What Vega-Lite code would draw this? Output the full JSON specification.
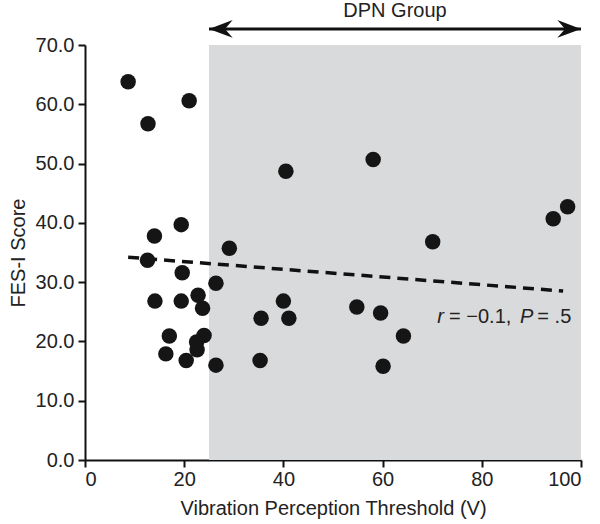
{
  "$schema": "https://vega.github.io/schema/vega-lite/v6.json",
  "width": 496,
  "height": 415,
  "autosize": "none",
  "padding": {"left": 85, "top": 45, "right": 19, "bottom": 64},
  "background": "white",
  "config": {
    "view": {"stroke": null},
    "font": "Liberation Sans",
    "axis": {
      "domainColor": "#111111",
      "domainWidth": 2,
      "tickColor": "#111111",
      "tickWidth": 2,
      "tickSize": 7,
      "labelFont": "Liberation Sans",
      "labelFontSize": 20,
      "labelColor": "#222222",
      "titleFont": "Liberation Sans",
      "titleFontSize": 20,
      "titleFontWeight": "normal",
      "titleColor": "#222222",
      "grid": false
    }
  },
  "datasets": {
    "points": [
      {"vpt": 8.7, "fes": 63.8},
      {"vpt": 12.7, "fes": 56.7},
      {"vpt": 21.0, "fes": 60.6},
      {"vpt": 40.5, "fes": 48.7},
      {"vpt": 58.1, "fes": 50.7},
      {"vpt": 97.3, "fes": 42.7},
      {"vpt": 94.4, "fes": 40.7},
      {"vpt": 70.1, "fes": 36.8},
      {"vpt": 54.8, "fes": 25.8},
      {"vpt": 59.6, "fes": 24.8},
      {"vpt": 64.2, "fes": 20.9},
      {"vpt": 60.1, "fes": 15.8},
      {"vpt": 14.0, "fes": 37.8},
      {"vpt": 19.4, "fes": 39.7},
      {"vpt": 29.1, "fes": 35.7},
      {"vpt": 12.6, "fes": 33.7},
      {"vpt": 19.6, "fes": 31.6},
      {"vpt": 26.4, "fes": 29.8},
      {"vpt": 14.1, "fes": 26.8},
      {"vpt": 19.4, "fes": 26.8},
      {"vpt": 22.8, "fes": 27.8},
      {"vpt": 23.7, "fes": 25.6},
      {"vpt": 40.0, "fes": 26.8},
      {"vpt": 41.1, "fes": 23.9},
      {"vpt": 35.5, "fes": 23.9},
      {"vpt": 17.0, "fes": 20.9},
      {"vpt": 24.0, "fes": 21.0},
      {"vpt": 22.5, "fes": 19.9},
      {"vpt": 22.6, "fes": 18.6},
      {"vpt": 16.3, "fes": 17.9},
      {"vpt": 20.4, "fes": 16.8},
      {"vpt": 26.4, "fes": 16.0},
      {"vpt": 35.3, "fes": 16.8}
    ],
    "fit": [
      {"vpt": 8.7, "fes": 34.2},
      {"vpt": 96.4, "fes": 28.5}
    ],
    "region": [
      {"x1": 25, "x2": 100, "y1": 0, "y2": 70}
    ],
    "arrow": [
      {"x1": 25, "x2": 100, "y": 72.7}
    ],
    "heads_left": [{"x": 25, "y": 72.7}],
    "heads_right": [{"x": 100, "y": 72.7}],
    "group_label": [{"x": 62.5, "y": 74.8, "label": "DPN Group"}],
    "stat_italic": [
      {"x": 71.0, "y": 23.05, "label": "r"},
      {"x": 87.7, "y": 23.05, "label": "P"}
    ],
    "stat_normal": [
      {"x": 73.4, "y": 23.05, "label": "= −0.1,"},
      {"x": 91.2, "y": 23.05, "label": "= .5"}
    ]
  },
  "layer": [
    {
      "data": {"name": "region"},
      "mark": {"type": "rect", "color": "#d9dadc"},
      "encoding": {
        "x": {"field": "x1", "type": "quantitative", "scale": {"domain": [0, 100], "nice": false},
          "axis": {"values": [0, 20, 40, 60, 80, 100], "format": "d", "title": "Vibration Perception Threshold (V)", "labelPadding": 2, "titlePadding": 9}},
        "x2": {"field": "x2"},
        "y": {"field": "y1", "type": "quantitative", "scale": {"domain": [0, 70], "nice": false},
          "axis": {"values": [0, 10, 20, 30, 40, 50, 60, 70], "format": ".1f", "title": "FES-I Score", "labelPadding": 4, "titlePadding": 7}},
        "y2": {"field": "y2"}
      }
    },
    {
      "data": {"name": "fit"},
      "mark": {"type": "line", "color": "#111111", "strokeWidth": 3.5, "strokeDash": [11, 7]},
      "encoding": {
        "x": {"field": "vpt", "type": "quantitative"},
        "y": {"field": "fes", "type": "quantitative"}
      }
    },
    {
      "data": {"name": "points"},
      "mark": {"type": "circle", "color": "#151515", "opacity": 1, "size": 240},
      "encoding": {
        "x": {"field": "vpt", "type": "quantitative"},
        "y": {"field": "fes", "type": "quantitative"}
      }
    },
    {
      "data": {"name": "arrow"},
      "mark": {"type": "rule", "color": "#111111", "strokeWidth": 3},
      "encoding": {
        "x": {"field": "x1", "type": "quantitative"},
        "x2": {"field": "x2"},
        "y": {"field": "y", "type": "quantitative"}
      }
    },
    {
      "data": {"name": "heads_left"},
      "mark": {"type": "point", "filled": true, "color": "#111111", "opacity": 1, "size": 560,
        "shape": "M 0 0 L 2 -0.75 L 1.35 0 L 2 0.75 Z"},
      "encoding": {
        "x": {"field": "x", "type": "quantitative"},
        "y": {"field": "y", "type": "quantitative"}
      }
    },
    {
      "data": {"name": "heads_right"},
      "mark": {"type": "point", "filled": true, "color": "#111111", "opacity": 1, "size": 560,
        "shape": "M 0 0 L -2 -0.75 L -1.35 0 L -2 0.75 Z"},
      "encoding": {
        "x": {"field": "x", "type": "quantitative"},
        "y": {"field": "y", "type": "quantitative"}
      }
    },
    {
      "data": {"name": "group_label"},
      "mark": {"type": "text", "fontSize": 20, "color": "#222222", "align": "center", "baseline": "alphabetic"},
      "encoding": {
        "x": {"field": "x", "type": "quantitative"},
        "y": {"field": "y", "type": "quantitative"},
        "text": {"field": "label"}
      }
    },
    {
      "data": {"name": "stat_italic"},
      "mark": {"type": "text", "fontSize": 20, "fontStyle": "italic", "color": "#222222", "align": "left", "baseline": "alphabetic"},
      "encoding": {
        "x": {"field": "x", "type": "quantitative"},
        "y": {"field": "y", "type": "quantitative"},
        "text": {"field": "label"}
      }
    },
    {
      "data": {"name": "stat_normal"},
      "mark": {"type": "text", "fontSize": 20, "color": "#222222", "align": "left", "baseline": "alphabetic"},
      "encoding": {
        "x": {"field": "x", "type": "quantitative"},
        "y": {"field": "y", "type": "quantitative"},
        "text": {"field": "label"}
      }
    }
  ]
}
